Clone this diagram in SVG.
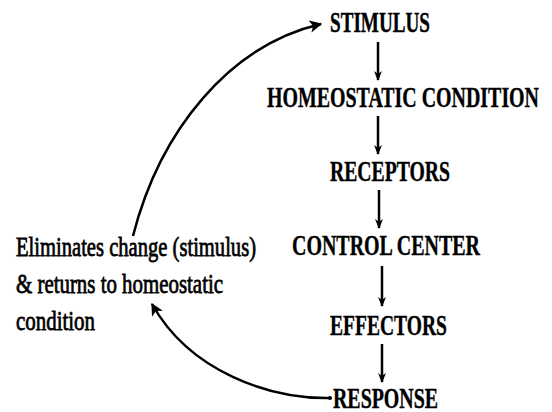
<svg xmlns="http://www.w3.org/2000/svg" width="552" height="412" viewBox="0 0 552 412">
<defs>
<style>
.n{font-family:'Liberation Serif','DejaVu Serif',serif;font-weight:bold;font-size:29px;fill:#000;stroke:#000;stroke-width:0.4;}
.l{font-family:'Liberation Serif','DejaVu Serif',serif;font-size:28px;fill:#000;stroke:#000;stroke-width:0.8;}
.c{fill:none;stroke:#000;stroke-width:2.5;}
.s{fill:none;stroke:#000;stroke-width:2.5;}
</style>
<marker id="ah" viewBox="0 0 10 10" refX="9" refY="5" markerWidth="5" markerHeight="5" orient="auto" markerUnits="strokeWidth">
<path d="M0,0 L10,5 L0,10 L2.5,5 Z" fill="#000"/>
</marker>
<marker id="sh" viewBox="0 0 10 10" refX="9" refY="5" markerWidth="4.5" markerHeight="4" orient="auto" markerUnits="strokeWidth">
<path d="M0,1 L10,5 L0,9 L3,5 Z" fill="#000"/>
</marker>
</defs>
<rect width="552" height="412" fill="#fff"/>
<g id="connectors">
<path class="c" d="M133,236 C160,130 230,45 321,24" marker-end="url(#ah)"/>
<path class="c" d="M330,398 C270,399 190,372 152,304" marker-end="url(#ah)"/>
<circle cx="330" cy="398" r="2" fill="#000"/>
<line class="s" x1="378" y1="42" x2="378" y2="80" marker-end="url(#sh)"/>
<line class="s" x1="378" y1="116" x2="378" y2="154" marker-end="url(#sh)"/>
<line class="s" x1="379" y1="190" x2="379" y2="228" marker-end="url(#sh)"/>
<line class="s" x1="382" y1="266" x2="382" y2="306" marker-end="url(#sh)"/>
<line class="s" x1="382" y1="344" x2="382" y2="382" marker-end="url(#sh)"/>
</g>
<g id="stimulus"><text class="n" x="330" y="32" textLength="100" lengthAdjust="spacingAndGlyphs">STIMULUS</text></g>
<g id="homeostatic"><text class="n" x="267" y="107" textLength="272" lengthAdjust="spacingAndGlyphs">HOMEOSTATIC CONDITION</text></g>
<g id="receptors"><text class="n" x="330" y="181" textLength="120" lengthAdjust="spacingAndGlyphs">RECEPTORS</text></g>
<g id="control"><text class="n" x="292" y="255" textLength="188" lengthAdjust="spacingAndGlyphs">CONTROL CENTER</text></g>
<g id="effectors"><text class="n" x="330" y="335" textLength="117" lengthAdjust="spacingAndGlyphs">EFFECTORS</text></g>
<g id="response"><text class="n" x="333" y="408" textLength="105" lengthAdjust="spacingAndGlyphs">RESPONSE</text></g>
<g id="eliminates">
<text class="l" x="16" y="256" textLength="240" lengthAdjust="spacingAndGlyphs">Eliminates change (stimulus)</text>
<text class="l" x="16" y="293" textLength="207" lengthAdjust="spacingAndGlyphs">&amp; returns to homeostatic</text>
<text class="l" x="16" y="330" textLength="79" lengthAdjust="spacingAndGlyphs">condition</text>
</g>
</svg>
